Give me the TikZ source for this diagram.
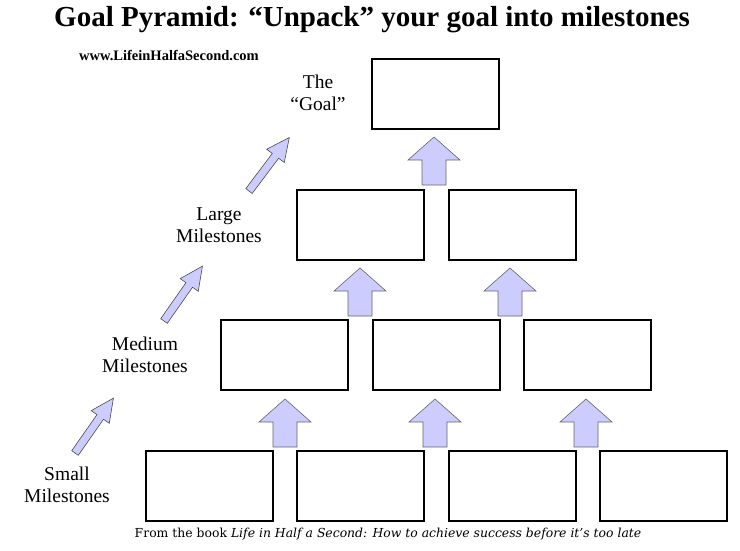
\documentclass[tikz,border=0pt]{standalone}
\usepackage{fontspec}
\setmainfont{Liberation Serif}
\newfontfamily\botfont{DejaVu Serif}
\begin{document}
\begin{tikzpicture}[x=1pt,y=-1pt,
  box/.style={draw=black,line width=2pt,minimum width=127pt,minimum height=70pt,inner sep=0pt},
  lbl/.style={align=center,font=\fontsize{19.5}{22}\selectfont},
  barrow/.pic={\draw[draw=black!60,fill=blue!20!white,line width=0.6pt]
     (-12,0) -- (-12,-25) -- (-26,-25) -- (0,-48) -- (26,-25) -- (12,-25) -- (12,0) -- cycle;},
  darrow/.pic={\draw[draw=black!70,fill=blue!20!white,line width=0.6pt]
     (-4,0) -- (-4,-44) -- (-11,-44) -- (0,-67) -- (11,-44) -- (4,-44) -- (4,0) -- cycle;}]
\useasboundingbox (0,0) rectangle (740,550);
\node[font=\bfseries\fontsize{29}{33}\selectfont] (title) at (372,20) {Goal Pyramid: “Unpack” your goal into milestones};
\node[font=\bfseries\fontsize{14.5}{16}\selectfont] (url) at (169,55) {www.LifeinHalfaSecond.com};
\node[box] (g) at (435.5,93.5) {};
\node[box] (l1) at (360,224.5) {};
\node[box] (l2) at (512,224.5) {};
\node[box] (m1) at (284,355) {};
\node[box] (m2) at (436,355) {};
\node[box] (m3) at (587,355) {};
\node[box] (s1) at (209.5,486) {};
\node[box] (s2) at (360.5,486) {};
\node[box] (s3) at (512,486) {};
\node[box] (s4) at (663,486) {};
\pic at (434,185) {barrow};
\pic at (360,316) {barrow};
\pic at (510,316) {barrow};
\pic at (285,447) {barrow};
\pic at (435,447) {barrow};
\pic at (586,447) {barrow};
\pic[rotate=-35] at (75,453) {darrow};
\pic[rotate=-35] at (164,321) {darrow};
\pic[rotate=-37] at (249,191) {darrow};
\node[lbl] (tg) at (318,93) {The\\“Goal”};
\node[lbl] (tl) at (219,225) {Large\\Milestones};
\node[lbl] (tm) at (145,355) {Medium\\Milestones};
\node[lbl] (ts) at (67,485) {Small\\Milestones};
\node[font=\botfont\fontsize{12.4}{14}\selectfont] (foot) at (388,534) {From the book \textit{Life in Half a Second: How to achieve success before it’s too late}};
\end{tikzpicture}
\end{document}
